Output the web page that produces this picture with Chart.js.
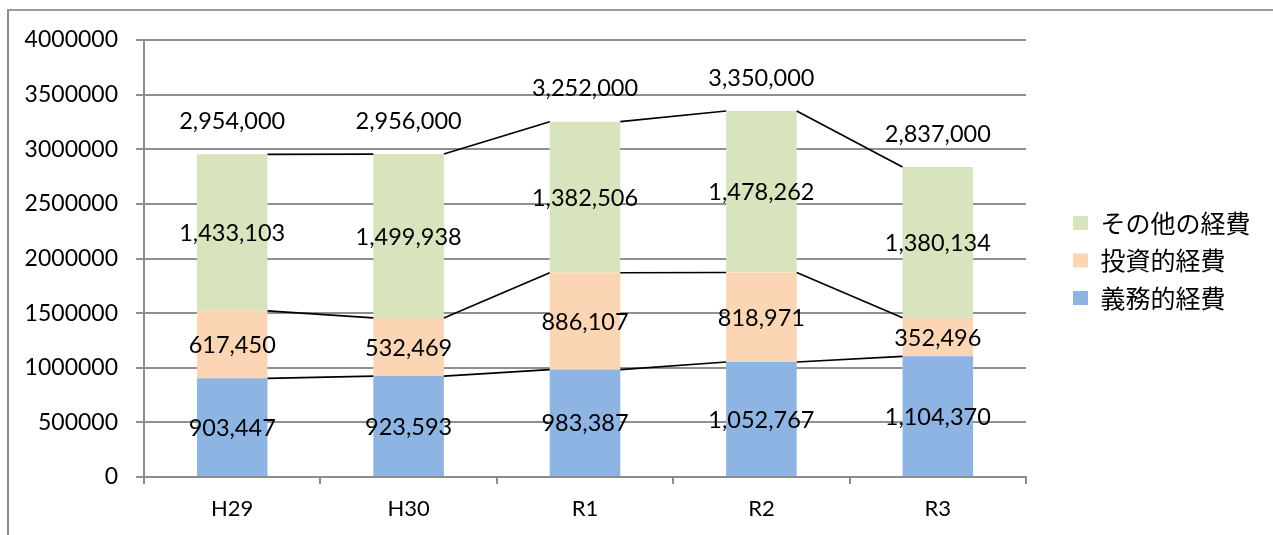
<!DOCTYPE html>
<html><head><meta charset="utf-8">
<script src="https://cdn.jsdelivr.net/npm/chart.js@4.4.1/dist/chart.umd.min.js"></script>
<style>
html,body{margin:0;padding:0;background:#fff;}
#wrap{position:relative;width:1273px;height:535px;overflow:hidden;background:#fff;}
#frame{position:absolute;left:7px;top:9px;width:1300px;height:600px;border-top:2px solid #9a9a9a;border-left:2px solid #8a8a8a;box-sizing:border-box;}
canvas{position:absolute;left:0;top:0;}
</style></head><body>
<div id="wrap"><div id="frame"></div><canvas id="c" width="1273" height="535"></canvas></div>
<script>
const categories = ['H29', 'H30', 'R1', 'R2', 'R3'];
const seriesNames = ['義務的経費', '投資的経費', 'その他の経費'];
const mandatory = [903447, 923593, 983387, 1052767, 1104370];
const investment = [617450, 532469, 886107, 818971, 352496];
const other = [1433103, 1499938, 1382506, 1478262, 1380134];
const totals = [2954000, 2956000, 3252000, 3350000, 2837000];
const yTicks = [0, 500000, 1000000, 1500000, 2000000, 2500000, 3000000, 3500000, 4000000];
const colors = ['#8EB4E3', '#FCD5B5', '#D7E4BD'];

const NUM_FONT = '23.5px Lato';
const fmt = v => v.toLocaleString('en-US');

const overlay = {
  id: 'overlay',
  afterLayout(chart) {
    const lg = chart.legend;
    if (!lg) return;
    const h = lg.height;
    lg.left = 1073 - 12.5;
    lg.right = lg.left + lg.width;
    lg.top = 198;
    lg.bottom = lg.top + h;
  },
  afterDatasetsDraw(chart) {
    const ctx = chart.ctx;
    ctx.save();
    ctx.strokeStyle = '#000';
    ctx.lineWidth = 1.7;
    chart.data.datasets.forEach((ds, di) => {
      const els = chart.getDatasetMeta(di).data;
      for (let i = 0; i < els.length - 1; i++) {
        const a = els[i], b = els[i + 1];
        ctx.beginPath();
        ctx.moveTo(a.x + a.width / 2, a.y);
        ctx.lineTo(b.x - b.width / 2, b.y);
        ctx.stroke();
      }
    });
    ctx.fillStyle = '#000';
    ctx.font = NUM_FONT;
    ctx.textAlign = 'center';
    ctx.textBaseline = 'middle';
    chart.data.datasets.forEach((ds, di) => {
      chart.getDatasetMeta(di).data.forEach((el, i) => {
        ctx.fillText(fmt(ds.data[i]), el.x, (el.y + el.base) / 2 + 1);
      });
    });
    const yScale = chart.scales.y;
    const topMeta = chart.getDatasetMeta(chart.data.datasets.length - 1);
    totals.forEach((t, i) => {
      ctx.fillText(fmt(t), topMeta.data[i].x, yScale.getPixelForValue(t) - 33);
    });
    ctx.restore();
  }
};

Chart.defaults.color = '#000';
Chart.defaults.font.family = 'Lato';

const chart = new Chart(document.getElementById('c'), {
  type: 'bar',
  data: {
    labels: categories,
    datasets: [
      { label: seriesNames[0], data: mandatory, backgroundColor: colors[0], borderWidth: 0 },
      { label: seriesNames[1], data: investment, backgroundColor: colors[1], borderWidth: 0 },
      { label: seriesNames[2], data: other, backgroundColor: colors[2], borderWidth: 0 }
    ]
  },
  options: {
    responsive: false,
    animation: false,
    events: [],
    layout: { padding: { left: 0, right: 20, top: 40, bottom: 0 } },
    datasets: { bar: { categoryPercentage: 1, barPercentage: 0.4 } },
    scales: {
      x: {
        stacked: true,
        afterFit(s) { s.height = 58; },
        grid: { display: true, drawOnChartArea: false, drawTicks: true, tickLength: 7, color: '#8c8c8c', lineWidth: 2, offset: true },
        border: { display: true, color: '#8c8c8c', width: 2 },
        ticks: { font: { size: 22, family: 'Lato' }, color: '#000', padding: 12 }
      },
      y: {
        stacked: true,
        min: 0, max: 4000000,
        afterFit(s) { s.width = 144; },
        afterBuildTicks(s) { s.ticks = yTicks.map(v => ({ value: v })); },
        grid: { color: '#909090', lineWidth: 2, tickLength: 8, drawTicks: true },
        border: { display: true, color: '#8c8c8c', width: 2 },
        ticks: { font: { size: 23, family: 'Lato' }, color: '#000', padding: 18, callback: v => String(v) }
      }
    },
    plugins: {
      tooltip: { enabled: false },
      legend: {
        position: 'right',
        align: 'start',
        reverse: true,
        labels: {
          boxWidth: 15, boxHeight: 14, padding: 12.5,
          font: { size: 25, family: '"Noto Sans CJK JP"' }, color: '#000'
        }
      }
    }
  },
  plugins: [overlay]
});
const dx = chart.chartArea.right - 1026;
if (Math.abs(dx) > 0.5) {
  chart.options.layout.padding.right += dx;
  chart.update('none');
}
</script>
</body></html>
